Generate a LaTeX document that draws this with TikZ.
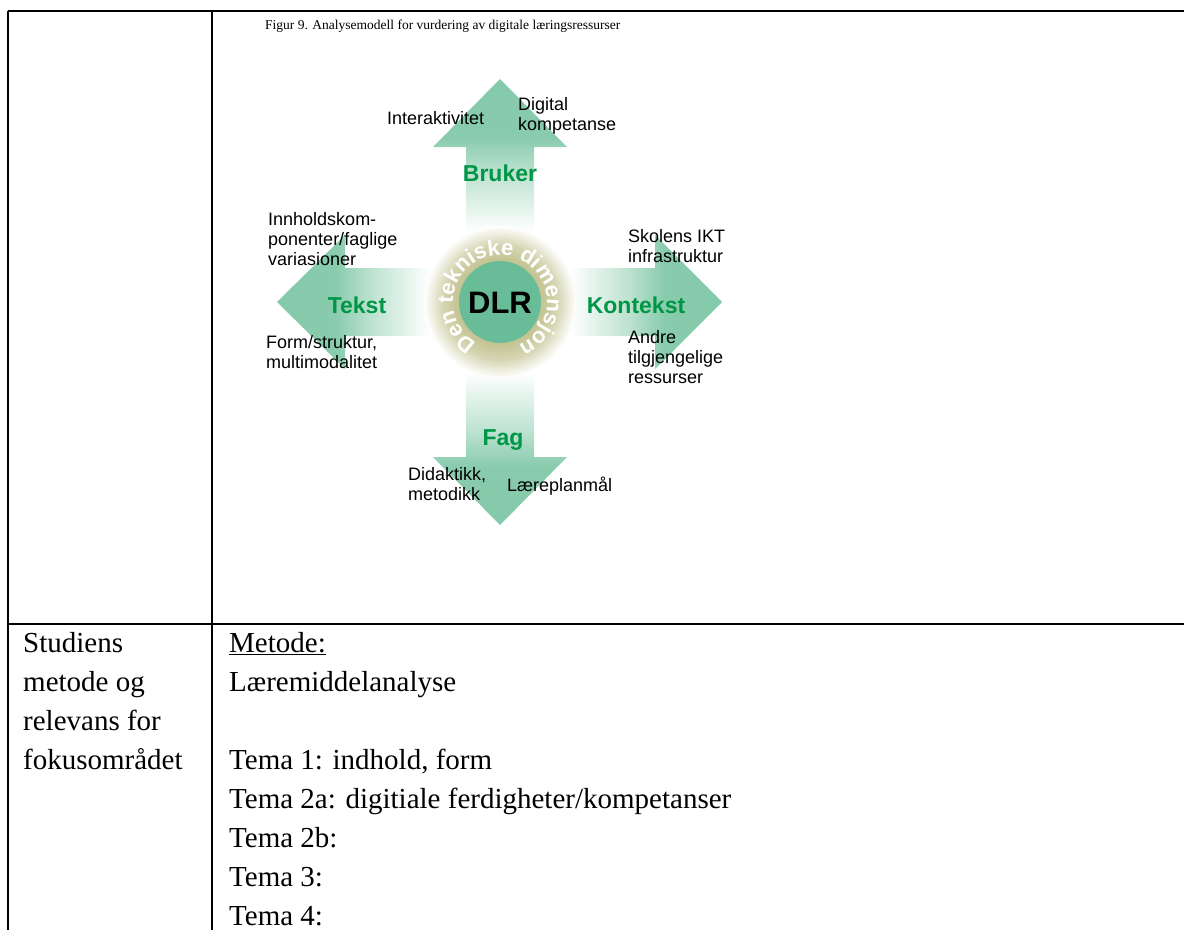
\documentclass[tikz,border=0pt]{standalone}
\usepackage{fontspec}
\setmainfont{Liberation Serif}
\setsansfont{Liberation Sans}
\usepackage{tikz}
\usetikzlibrary{decorations.text}
\definecolor{armgreen}{RGB}{124,198,164}
\definecolor{dlrteal}{RGB}{104,188,152}
\definecolor{ringolive}{RGB}{196,196,148}
\definecolor{labelgreen}{RGB}{0,150,70}
\pgfdeclareverticalshading{armfade}{100bp}{color(0bp)=(white); color(28bp)=(white); color(46bp)=(armgreen!50); color(57bp)=(armgreen!90); color(100bp)=(armgreen)}
\pgfdeclareradialshading{dlrglow}{\pgfpointorigin}{color(0bp)=(ringolive); color(14bp)=(ringolive); color(19bp)=(ringolive!70); color(25bp)=(white); color(50bp)=(white)}

\begin{document}
\begin{tikzpicture}[x=1pt,y=1pt]
\tikzstyle{arm}=[shading=armfade]
\tikzstyle{lbl}=[font=\sffamily\fontsize{18}{20}\selectfont,align=left,inner sep=0pt,anchor=base west]
\tikzstyle{dim}=[font=\sffamily\bfseries\fontsize{23}{23}\selectfont,text=labelgreen,inner sep=0pt,anchor=base]
\tikzstyle{cell}=[font=\fontsize{29}{39}\selectfont,align=left,inner sep=0pt,anchor=base west]
\useasboundingbox (0,0) rectangle (1184,-930);

% table rules
\draw[line width=2.6pt] (8,-11) -- (1184,-11);
\draw[line width=2.6pt] (8,-11) -- (8,-930);
\draw[line width=2.6pt] (212,-11) -- (212,-930);
\draw[line width=2.6pt] (8,-624) -- (1184,-624);

% caption
\node (cap) [anchor=base west,inner sep=0pt,font=\fontsize{13.5}{15}\selectfont] at (265,-29) {Figur 9. Analysemodell for vurdering av digitale læringsressurser};

% the four arms
\shade[arm,shading angle=0] (466,-242) -- (466,-147) -- (433,-147) -- (500,-79) -- (567,-147) -- (534,-147) -- (534,-242) -- cycle;
\shade[arm,shading angle=90] (440,-268) -- (345,-268) -- (345,-235) -- (277,-302) -- (345,-369) -- (345,-336) -- (440,-336) -- cycle;
\shade[arm,shading angle=270] (560,-268) -- (655,-268) -- (655,-235) -- (722,-302) -- (655,-369) -- (655,-336) -- (560,-336) -- cycle;
\shade[arm,shading angle=180] (466,-362) -- (466,-457) -- (433,-457) -- (500,-525) -- (567,-457) -- (534,-457) -- (534,-362) -- cycle;

% centre
\shade[shading=dlrglow] (500,-302) circle (76);
\fill[dlrteal] (500,-302) circle (41);
\node (dlr) [font=\sffamily\bfseries\fontsize{31}{31}\selectfont,inner sep=0pt,anchor=base] at (500,-313) {DLR};
\path[decorate,decoration={text along path,text align={fit to path},
  text={|\sffamily\bfseries\fontsize{22}{22}\selectfont\color{white}|Den tekniske dimensjon}}]
  (500,-302) ++(240:47) arc[start angle=240,end angle=-60,radius=47];

% Bruker
\node (bruker) [dim] at (500,-181) {Bruker};
\node (interakt) [lbl] at (387,-124) {Interaktivitet};
\node (digital) [lbl] at (518,-130) {Digital\\kompetanse};

% Tekst
\node (tekst) [dim] at (357,-313) {Tekst};
\node (innhold) [lbl] at (268,-265) {Innholdskom-\\ponenter/faglige\\variasioner};
\node (form) [lbl] at (266,-368) {Form/struktur,\\multimodalitet};

% Kontekst
\node (kontekst) [dim] at (636,-313) {Kontekst};
\node (skolens) [lbl] at (628,-262) {Skolens IKT\\infrastruktur};
\node (andre) [lbl] at (628,-383) {Andre\\tilgjengelige\\ressurser};

% Fag
\node (fag) [dim] at (503,-445) {Fag};
\node (didaktikk) [lbl] at (408,-500) {Didaktikk,\\metodikk};
\node (laereplan) [lbl] at (507,-491) {Læreplanmål};

% lower row
\node (studiens) [cell] at (23,-769) {Studiens\\metode og\\relevans for\\fokusområdet};
\node (metode) [cell] at (229,-925) {\underline{Metode:}\\Læremiddelanalyse\\ \\Tema 1: indhold, form\\Tema 2a: digitiale ferdigheter/kompetanser\\Tema 2b:\\Tema 3:\\Tema 4:};

\end{tikzpicture}
\end{document}
